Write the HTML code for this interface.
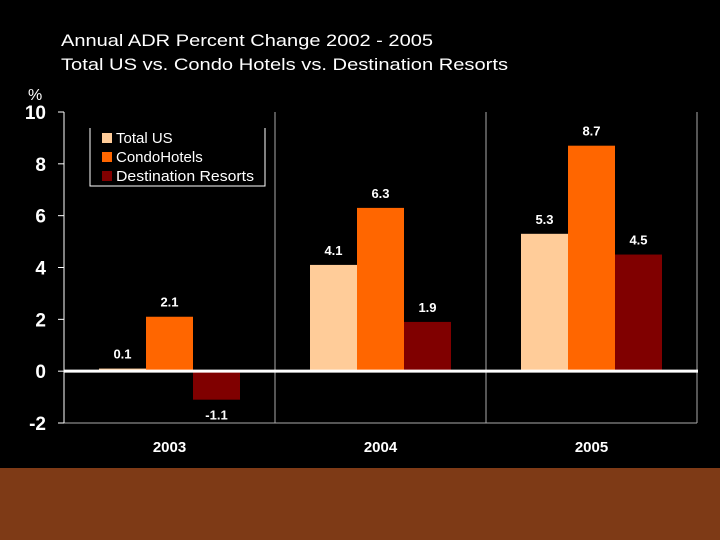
<!DOCTYPE html>
<html><head><meta charset="utf-8"><style>
body{margin:0;background:#000;width:720px;height:540px;overflow:hidden}
svg{display:block}
text{font-family:"Liberation Sans",Arial,sans-serif}
</style></head><body>
<svg width="720" height="540">
<rect x="0" y="468" width="720" height="72" fill="#7e3a16"/>
<text x="61" y="46" fill="#fff" font-size="17" textLength="372" lengthAdjust="spacingAndGlyphs">Annual ADR Percent Change 2002 - 2005</text>
<text x="61" y="70" fill="#fff" font-size="17" textLength="447" lengthAdjust="spacingAndGlyphs">Total US vs. Condo Hotels vs. Destination Resorts</text>
<text x="28" y="100" fill="#fff" font-size="16">%</text>
<g id="plot"></g>
<g>
<path d="M90 128 V186 H265 V128" stroke="#fff" fill="none" stroke-width="1"/>
<rect x="102" y="133" width="10" height="10" fill="#ffcc99"/>
<text x="116" y="143" fill="#fff" font-size="15">Total US</text>
<rect x="102" y="152" width="10" height="10" fill="#ff6600"/>
<text x="116" y="162" fill="#fff" font-size="15">CondoHotels</text>
<rect x="102" y="171" width="10" height="10" fill="#800000"/>
<text x="116" y="181" fill="#fff" font-size="15" textLength="138" lengthAdjust="spacingAndGlyphs">Destination Resorts</text>
</g>
</svg>
<script>
const categories=["2003","2004","2005"];
const totalUS=[0.1,4.1,5.3];
const condo=[2.1,6.3,8.7];
const dest=[-1.1,1.9,4.5];
const yTicks=[-2,0,2,4,6,8,10];
const NS="http://www.w3.org/2000/svg";
const g=document.getElementById('plot');
const x0=64,x1=697,yMin=-2,yMax=10,yTop=112,yBot=423;
const y=v=>yBot-(v-yMin)/(yMax-yMin)*(yBot-yTop);
const cw=(x1-x0)/categories.length;
function mk(t,a){const e=document.createElementNS(NS,t);for(const k in a)e.setAttribute(k,a[k]);g.appendChild(e);return e;}
for(let i=1;i<=categories.length;i++){const l=mk('line',{x1:x0+i*cw,x2:x0+i*cw,y1:yTop,y2:yBot,stroke:'#aaa','stroke-width':1});

}
const bot=mk('line',{x1:x0,x2:x1,y1:yBot,y2:yBot,stroke:'#aaa','stroke-width':1});


const ax=mk('line',{x1:x0,x2:x0,y1:yTop,y2:yBot,stroke:'#fff','stroke-width':1});


yTicks.forEach(v=>{
 const tk=mk('line',{x1:x0-6,x2:x0,y1:y(v),y2:y(v),stroke:'#fff'});
 
 
 const t=mk('text',{x:46,y:y(v)+7,fill:'#fff','font-size':19,'font-weight':'bold','text-anchor':'end'});
 t.textContent=v;
 
 
});
const series=[[totalUS,'#ffcc99','total-us'],[condo,'#ff6600','condo'],[dest,'#800000','destination']];
const bw=47,off=35;
categories.forEach((c,i)=>{
 series.forEach((s,j)=>{
  const v=s[0][i],bx=x0+i*cw+off+j*bw;
  const r=mk('rect',{x:bx,y:Math.min(y(v),y(0)),width:bw,height:Math.max(1.5,Math.abs(y(v)-y(0))),fill:s[1]});
  
  
  const ly=v>=0?y(v)-10:y(v)+20;
  const t=mk('text',{x:bx+bw/2,y:ly,fill:'#fff','font-size':13,'font-weight':'bold','text-anchor':'middle'});
  t.textContent=v.toFixed(1);
  
  
 });
 const t=mk('text',{x:x0+i*cw+cw/2,y:452,fill:'#fff','font-size':15,'font-weight':'bold','text-anchor':'middle'});
 t.textContent=c;
 
 
});
const z=mk('line',{x1:x0,x2:x1+1,y1:y(0),y2:y(0),stroke:'#fff','stroke-width':3});


</script>
</body></html>
